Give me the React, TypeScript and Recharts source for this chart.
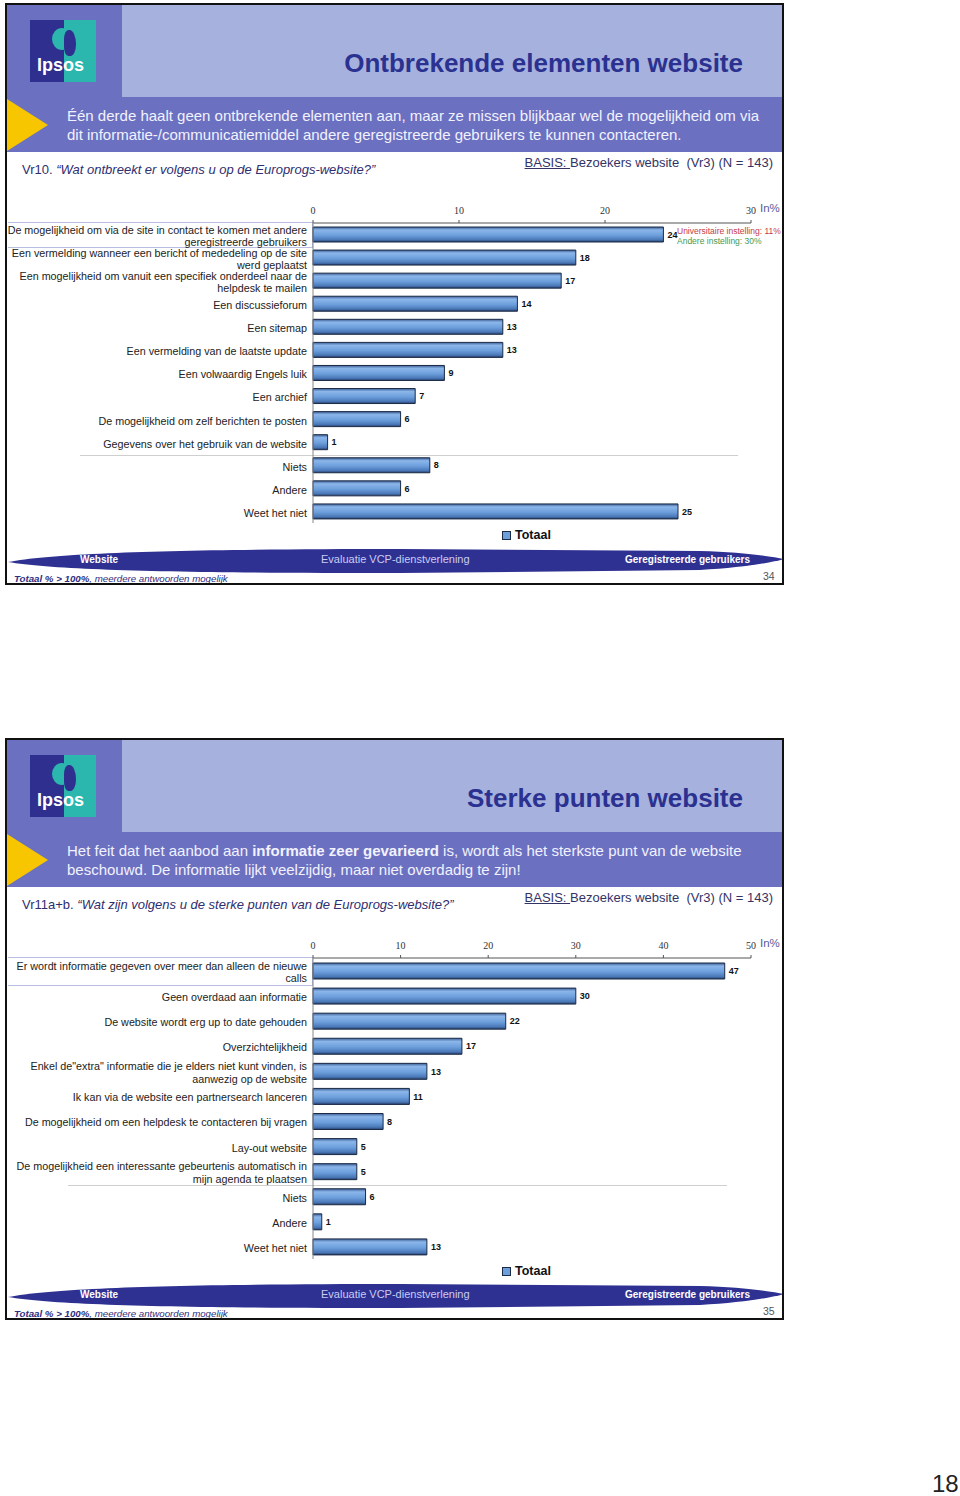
import { BarChart, Bar, XAxis, YAxis, LabelList, Legend } from "recharts";

const FONT = '"Liberation Sans", Arial, Helvetica, sans-serif';
const SERIF = '"Liberation Serif", "Times New Roman", serif';

// slide 34 – Ontbrekende elementen website
const missingCategories = [
  "De mogelijkheid om via de site in contact te komen met andere\ngeregistreerde gebruikers",
  "Een vermelding wanneer een bericht of mededeling op de site\nwerd geplaatst",
  "Een mogelijkheid om vanuit een specifiek onderdeel naar de\nhelpdesk te mailen",
  "Een discussieforum",
  "Een sitemap",
  "Een vermelding van de laatste update",
  "Een volwaardig Engels luik",
  "Een archief",
  "De mogelijkheid om zelf berichten te posten",
  "Gegevens over het gebruik van de website",
  "Niets",
  "Andere",
  "Weet het niet",
];
const missingValues = [24, 18, 17, 14, 13, 13, 9, 7, 6, 1, 8, 6, 25];
const missingTicks = [0, 10, 20, 30];

// slide 35 – Sterke punten website
const strengthCategories = [
  "Er wordt informatie gegeven over meer dan alleen de nieuwe\ncalls",
  "Geen overdaad aan informatie",
  "De website wordt erg up to date gehouden",
  "Overzichtelijkheid",
  "Enkel de\"extra\" informatie die je elders niet kunt vinden, is\naanwezig op de website",
  "Ik kan via de website een partnersearch lanceren",
  "De mogelijkheid om een helpdesk te contacteren bij vragen",
  "Lay-out website",
  "De mogelijkheid een interessante gebeurtenis automatisch in\nmijn agenda te plaatsen",
  "Niets",
  "Andere",
  "Weet het niet",
];
const strengthValues = [47, 30, 22, 17, 13, 11, 8, 5, 5, 6, 1, 13];
const strengthTicks = [0, 10, 20, 30, 40, 50];

const missingData = missingCategories.map((name, i) => ({ name, value: missingValues[i] }));
const strengthData = strengthCategories.map((name, i) => ({ name, value: strengthValues[i] }));

function CategoryTick({ x, y, payload }: any) {
  const lines = String(payload.value).split("\n");
  const lh = 12.5;
  const start = y - ((lines.length - 1) * lh) / 2;
  return (
    <text x={x} y={start} textAnchor="end" fontSize={10.75} fill="#222" fontFamily={FONT}>
      {lines.map((l, i) => (
        <tspan key={i} x={x} y={start + i * lh} dy="0.5em">
          {l}
        </tspan>
      ))}
    </text>
  );
}

function TotaalLegend() {
  return (
    <div style={{ display: "flex", alignItems: "center", fontFamily: FONT }}>
      <span
        style={{
          width: 7,
          height: 7,
          background: "#6d9fdc",
          border: "1.5px solid #1b2a45",
          marginRight: 4,
        }}
      />
      <span style={{ fontSize: 12.5, fontWeight: 700, color: "#111" }}>Totaal</span>
    </div>
  );
}

type ChartProps = {
  data: { name: string; value: number }[];
  ticks: number[];
  max: number;
  barSize: number;
  height: number;
  legendTop: number;
  gradientId: string;
};

function TotaalChart({ data, ticks, max, barSize, height, legendTop, gradientId }: ChartProps) {
  return (
    <div style={{ position: "absolute", left: 0, top: 195 }}>
      <BarChart
        width={790}
        height={height}
        data={data}
        layout="vertical"
        margin={{ top: 0, right: 39, bottom: 27, left: 0 }}
        style={{ overflow: "visible" }}
      >
        <defs>
          <linearGradient id={gradientId} x1="0" y1="0" x2="0" y2="1">
            <stop offset="0%" stopColor="#3d5f96" />
            <stop offset="20%" stopColor="#8bb6ea" />
            <stop offset="55%" stopColor="#6d9fdc" />
            <stop offset="85%" stopColor="#4a78b8" />
            <stop offset="100%" stopColor="#263f6a" />
          </linearGradient>
        </defs>
        <XAxis
          type="number"
          orientation="top"
          domain={[0, max]}
          ticks={ticks}
          height={28}
          tickSize={3}
          tickMargin={6}
          axisLine={{ stroke: "#555" }}
          tickLine={{ stroke: "#555" }}
          tick={{ fontSize: 10, fill: "#333", fontFamily: SERIF }}
        />
        <YAxis
          type="category"
          dataKey="name"
          width={313}
          interval={0}
          tick={<CategoryTick />}
          tickLine={false}
          tickSize={0}
          tickMargin={6}
          axisLine={{ stroke: "#888" }}
        />
        <Legend
          layout="horizontal"
          verticalAlign="middle"
          align="center"
          content={() => <TotaalLegend />}
          wrapperStyle={{ left: 502, top: legendTop, width: "auto" }}
        />
        <Bar
          dataKey="value"
          name="Totaal"
          fill={`url(#${gradientId})`}
          stroke="#1b2a45"
          strokeWidth={1}
          barSize={barSize}
          isAnimationActive={false}
        >
          <LabelList
            dataKey="value"
            position="right"
            offset={4}
            style={{ fontSize: 9, fontWeight: 700, fill: "#111", fontFamily: FONT }}
          />
        </Bar>
      </BarChart>
    </div>
  );
}

function Logo() {
  return (
    <div style={{ position: "absolute", left: 30, top: 20, width: 66, height: 62, overflow: "hidden" }}>
      <div style={{ position: "absolute", left: 0, top: 0, width: 34, height: 62, background: "#2e2f8e" }} />
      <div style={{ position: "absolute", left: 34, top: 0, width: 32, height: 62, background: "#2bb6ae" }} />
      <div
        style={{
          position: "absolute",
          left: 22,
          top: 8,
          width: 20,
          height: 22,
          borderRadius: "50%",
          background: "#2bb6ae",
        }}
      />
      <div
        style={{
          position: "absolute",
          left: 34,
          top: 10,
          width: 12,
          height: 26,
          borderRadius: "40% 60% 50% 40%",
          background: "#2e2f8e",
        }}
      />
      <div
        style={{
          position: "absolute",
          left: 7,
          top: 35,
          fontSize: 18,
          fontWeight: 700,
          color: "#fff",
          fontFamily: FONT,
        }}
      >
        Ipsos
      </div>
    </div>
  );
}

type SlideProps = {
  top: number;
  title: string;
  subtitle: React.ReactNode;
  questionCode: string;
  questionText: string;
  page: string;
  separatorY: number;
  separatorX: [number, number];
  boxH: number;
  children: React.ReactNode;
};

function Slide({ top, title, subtitle, questionCode, questionText, page, separatorY, separatorX, boxH, children }: SlideProps) {
  return (
    <div style={{ position: "absolute", left: 0, top, width: 790, height: 590, fontFamily: FONT }}>
      {/* header */}
      <div style={{ position: "absolute", left: 7, top: 5, width: 775, height: 92, background: "#a6b1dd" }} />
      <div style={{ position: "absolute", left: 7, top: 5, width: 115, height: 92, background: "#6b70c0" }} />
      <div style={{ position: "absolute", left: 7, top: 97, width: 775, height: 55, background: "#6b70c0" }} />
      <svg style={{ position: "absolute", left: 0, top: 0 }} width={60} height={160}>
        <polygon points="7,99 48,125 7,151" fill="#f7c600" />
      </svg>
      <Logo />
      <div
        style={{
          position: "absolute",
          left: 122,
          top: 48,
          width: 621,
          textAlign: "right",
          fontSize: 26,
          lineHeight: "30px",
          fontWeight: 700,
          color: "#2b3190",
        }}
      >
        {title}
      </div>
      <div
        style={{
          position: "absolute",
          left: 67,
          top: 107,
          fontSize: 15,
          lineHeight: "18.5px",
          color: "#f2f2ff",
          whiteSpace: "pre",
        }}
      >
        {subtitle}
      </div>
      <div
        style={{
          position: "absolute",
          left: 22,
          top: 162,
          fontSize: 13,
          lineHeight: "16px",
          color: "#2e2e70",
          whiteSpace: "pre",
        }}
      >
        {questionCode} <i>{questionText}</i>
      </div>
      <div
        style={{
          position: "absolute",
          right: 790 - 773,
          top: 155,
          fontSize: 13,
          lineHeight: "16px",
          color: "#333366",
          whiteSpace: "pre",
        }}
      >
        <u>BASIS: </u>Bezoekers website  (Vr3) (N = 143)
      </div>

      {/* label highlight box + separator */}
      <div
        style={{
          position: "absolute",
          left: 8,
          top: 222,
          width: 305,
          height: boxH,
          border: "1px solid #b9bde2",
          borderLeft: "none",
          boxSizing: "border-box",
        }}
      />
      <div
        style={{
          position: "absolute",
          left: separatorX[0],
          top: separatorY,
          width: separatorX[1] - separatorX[0],
          height: 1,
          background: "#cfcfcf",
        }}
      />

      {children}

      <div style={{ position: "absolute", left: 760, top: 202, fontSize: 11.5, color: "#5b5b99" }}>In%</div>

      {/* footer */}
      <svg style={{ position: "absolute", left: 0, top: 540 }} width={790} height={40}>
        <path
          d="M 8 22 C 60 12, 200 9, 400 9 L 700 11 C 740 12, 770 16, 784 19 C 770 23, 740 28, 700 30 L 400 33 C 200 33, 60 31, 8 22 Z"
          fill="#2f3192"
        />
      </svg>
      <div style={{ position: "absolute", left: 80, top: 554, fontSize: 10, fontWeight: 700, color: "#fff" }}>
        Website
      </div>
      <div style={{ position: "absolute", left: 321, top: 553, fontSize: 11, color: "#c9ccf2" }}>
        Evaluatie VCP-dienstverlening
      </div>
      <div style={{ position: "absolute", left: 625, top: 554, fontSize: 10, fontWeight: 700, color: "#fff" }}>
        Geregistreerde gebruikers
      </div>
      <div
        style={{
          position: "absolute",
          left: 14,
          top: 573,
          fontSize: 9.7,
          fontStyle: "italic",
          textDecoration: "underline",
          color: "#2e2e80",
          whiteSpace: "pre",
        }}
      >
        <b>Totaal % &gt; 100%</b>, meerdere antwoorden mogelijk
      </div>
      <div style={{ position: "absolute", left: 763, top: 570, fontSize: 10.5, color: "#555" }}>{page}</div>

      {/* frame */}
      <div
        style={{
          position: "absolute",
          left: 5,
          top: 3,
          width: 779,
          height: 582,
          border: "2px solid #111",
          boxSizing: "border-box",
        }}
      />
    </div>
  );
}

export default function App() {
  return (
    <div style={{ position: "absolute", left: 0, top: 0, width: 960, height: 1496, background: "#fff", fontFamily: FONT }}>
      <Slide
        top={0}
        title="Ontbrekende elementen website"
        subtitle={
          <>
            {"Één derde haalt geen ontbrekende elementen aan, maar ze missen blijkbaar wel de mogelijkheid om via\n"}
            {"dit informatie-/communicatiemiddel andere geregistreerde gebruikers te kunnen contacteren."}
          </>
        }
        questionCode="Vr10."
        questionText="“Wat ontbreekt er volgens u op de Europrogs-website?”"
        page="34"
        separatorY={455}
        separatorX={[80, 738]}
        boxH={26}
      >
        <TotaalChart
          data={missingData}
          ticks={missingTicks}
          max={30}
          barSize={15}
          height={355}
          legendTop={333}
          gradientId="barGradA"
        />
        <div style={{ position: "absolute", left: 677, top: 226, fontSize: 8.5, lineHeight: "10px", whiteSpace: "pre" }}>
          <div style={{ color: "#c43a4a" }}>Universitaire instelling: 11%</div>
          <div style={{ color: "#3f9a55" }}>Andere instelling: 30%</div>
        </div>
      </Slide>

      <Slide
        top={735}
        title="Sterke punten website"
        subtitle={
          <>
            {"Het feit dat het aanbod aan "}
            <b>informatie zeer gevarieerd</b>
            {" is, wordt als het sterkste punt van de website\n"}
            {"beschouwd. De informatie lijkt veelzijdig, maar niet overdadig te zijn!"}
          </>
        }
        questionCode="Vr11a+b."
        questionText="“Wat zijn volgens u de sterke punten van de Europrogs-website?”"
        page="35"
        separatorY={450}
        separatorX={[68, 727]}
        boxH={29}
      >
        <TotaalChart
          data={strengthData}
          ticks={strengthTicks}
          max={50}
          barSize={16}
          height={356}
          legendTop={334}
          gradientId="barGradB"
        />
      </Slide>

      <div style={{ position: "absolute", left: 932, top: 1470, fontSize: 24, color: "#222" }}>18</div>
    </div>
  );
}
